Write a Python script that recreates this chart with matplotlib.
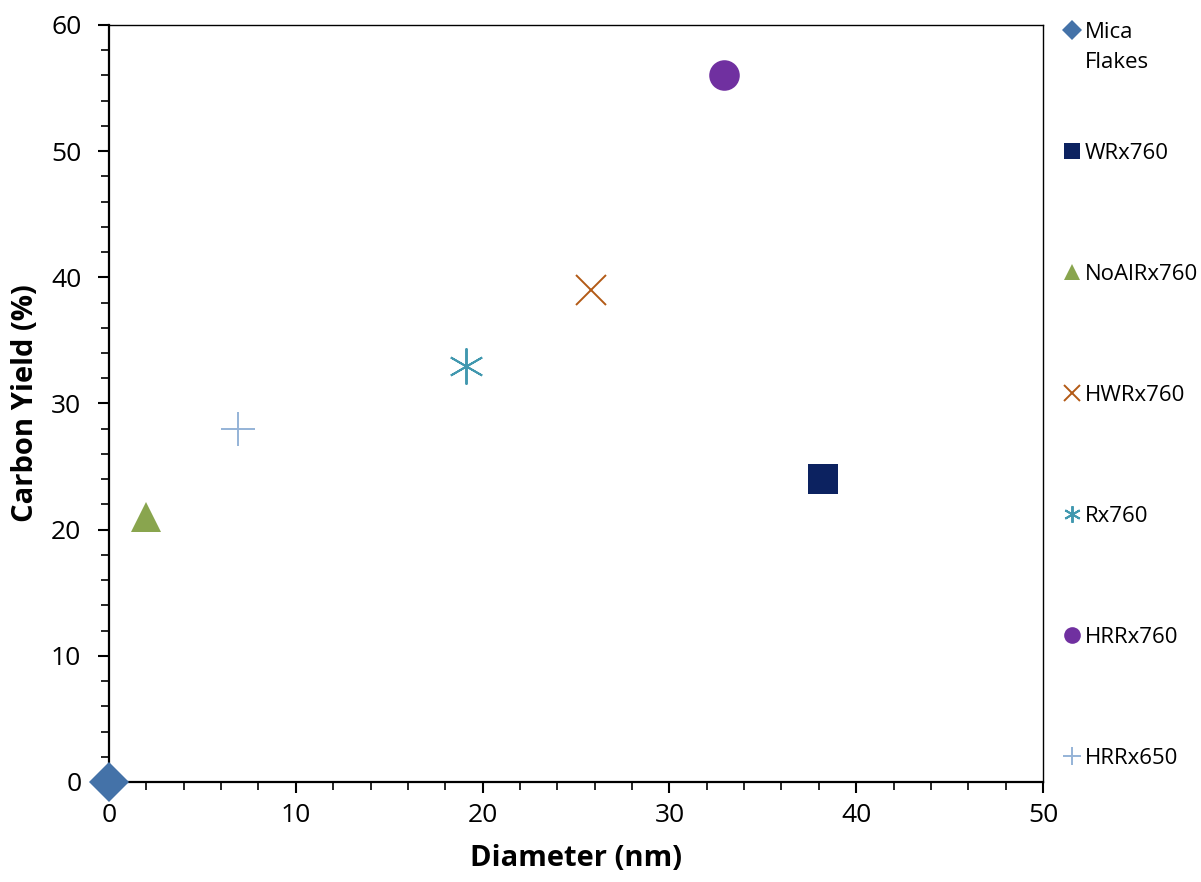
import matplotlib.pyplot as plt
from matplotlib.lines import Line2D
from matplotlib.ticker import MultipleLocator

# Sample data
names = ["Mica Flakes", "WRx760", "NoAlRx760", "HWRx760", "Rx760", "HRRx760", "HRRx650"]
diameter = [0.0, 38.2, 2.0, 25.8, 19.1, 32.9, 6.9]
carbon_yield = [0.0, 24.0, 21.0, 39.0, 33.0, 56.0, 28.0]

markers = ["D", "s", "^", "x", (6, 2, 0), "o", "+"]
colors = ["#4472A8", "#0C2260", "#89A54E", "#B35A16", "#4198AF", "#7030A0", "#95B3D7"]
sizes = [20, 22, 21, 21, 26, 22, 25]
legend_sizes = [10, 11, 12, 12, 12, 12, 13]

plt.rcParams["font.family"] = ["Open Sans", "DejaVu Sans"]

fig = plt.figure(figsize=(12.01, 8.82), dpi=100)
ax = fig.add_axes([0.0908, 0.1134, 0.7776, 0.8583])

for x, y, m, c, s in zip(diameter, carbon_yield, markers, colors, sizes):
    line_marker = m in ("x", "+") or isinstance(m, tuple)
    ax.plot([x], [y], linestyle="none", marker=m, markersize=s, color=c,
            markeredgewidth=1.4 if line_marker else 0, clip_on=False, zorder=3)

ax.set_xlim(0, 50)
ax.set_ylim(0, 60)
ax.xaxis.set_major_locator(MultipleLocator(10))
ax.xaxis.set_minor_locator(MultipleLocator(2))
ax.yaxis.set_major_locator(MultipleLocator(10))
ax.yaxis.set_minor_locator(MultipleLocator(2))
ax.tick_params(which="major", direction="out", length=8, width=1.5, labelsize=19, pad=7)
ax.tick_params(axis="y", which="major", pad=12)
ax.tick_params(which="minor", direction="out", length=6, width=1.2)

for side in ("left", "bottom"):
    ax.spines[side].set_linewidth(1.6)
for side in ("top", "right"):
    ax.spines[side].set_linewidth(1.0)

ax.set_xlabel("Diameter (nm)", fontsize=21, fontweight="bold", labelpad=12)
ax.set_ylabel("Carbon Yield (%)", fontsize=21, fontweight="bold", labelpad=8)

handles = []
labels = []
for n, m, c, s in zip(names, markers, colors, legend_sizes):
    line_marker = m in ("x", "+") or isinstance(m, tuple)
    handles.append(Line2D([], [], linestyle="none", marker=m, markersize=s, color=c,
                          markeredgewidth=1.4 if line_marker else 0))
    labels.append(n.split()[0])

leg = ax.legend(handles, labels, loc="upper left", bbox_to_anchor=(1.0, 1.033),
                frameon=False, fontsize=16, handlelength=0.6, handletextpad=0.3,
                labelspacing=4.5, borderaxespad=0.6)
# second line of the wrapped first label
ax.annotate("Flakes", xy=(0, 0), xycoords=leg.get_texts()[0], xytext=(0, -6),
            textcoords="offset points", va="top", ha="left", fontsize=16, zorder=10)

fig.savefig("out.png", dpi=100)
